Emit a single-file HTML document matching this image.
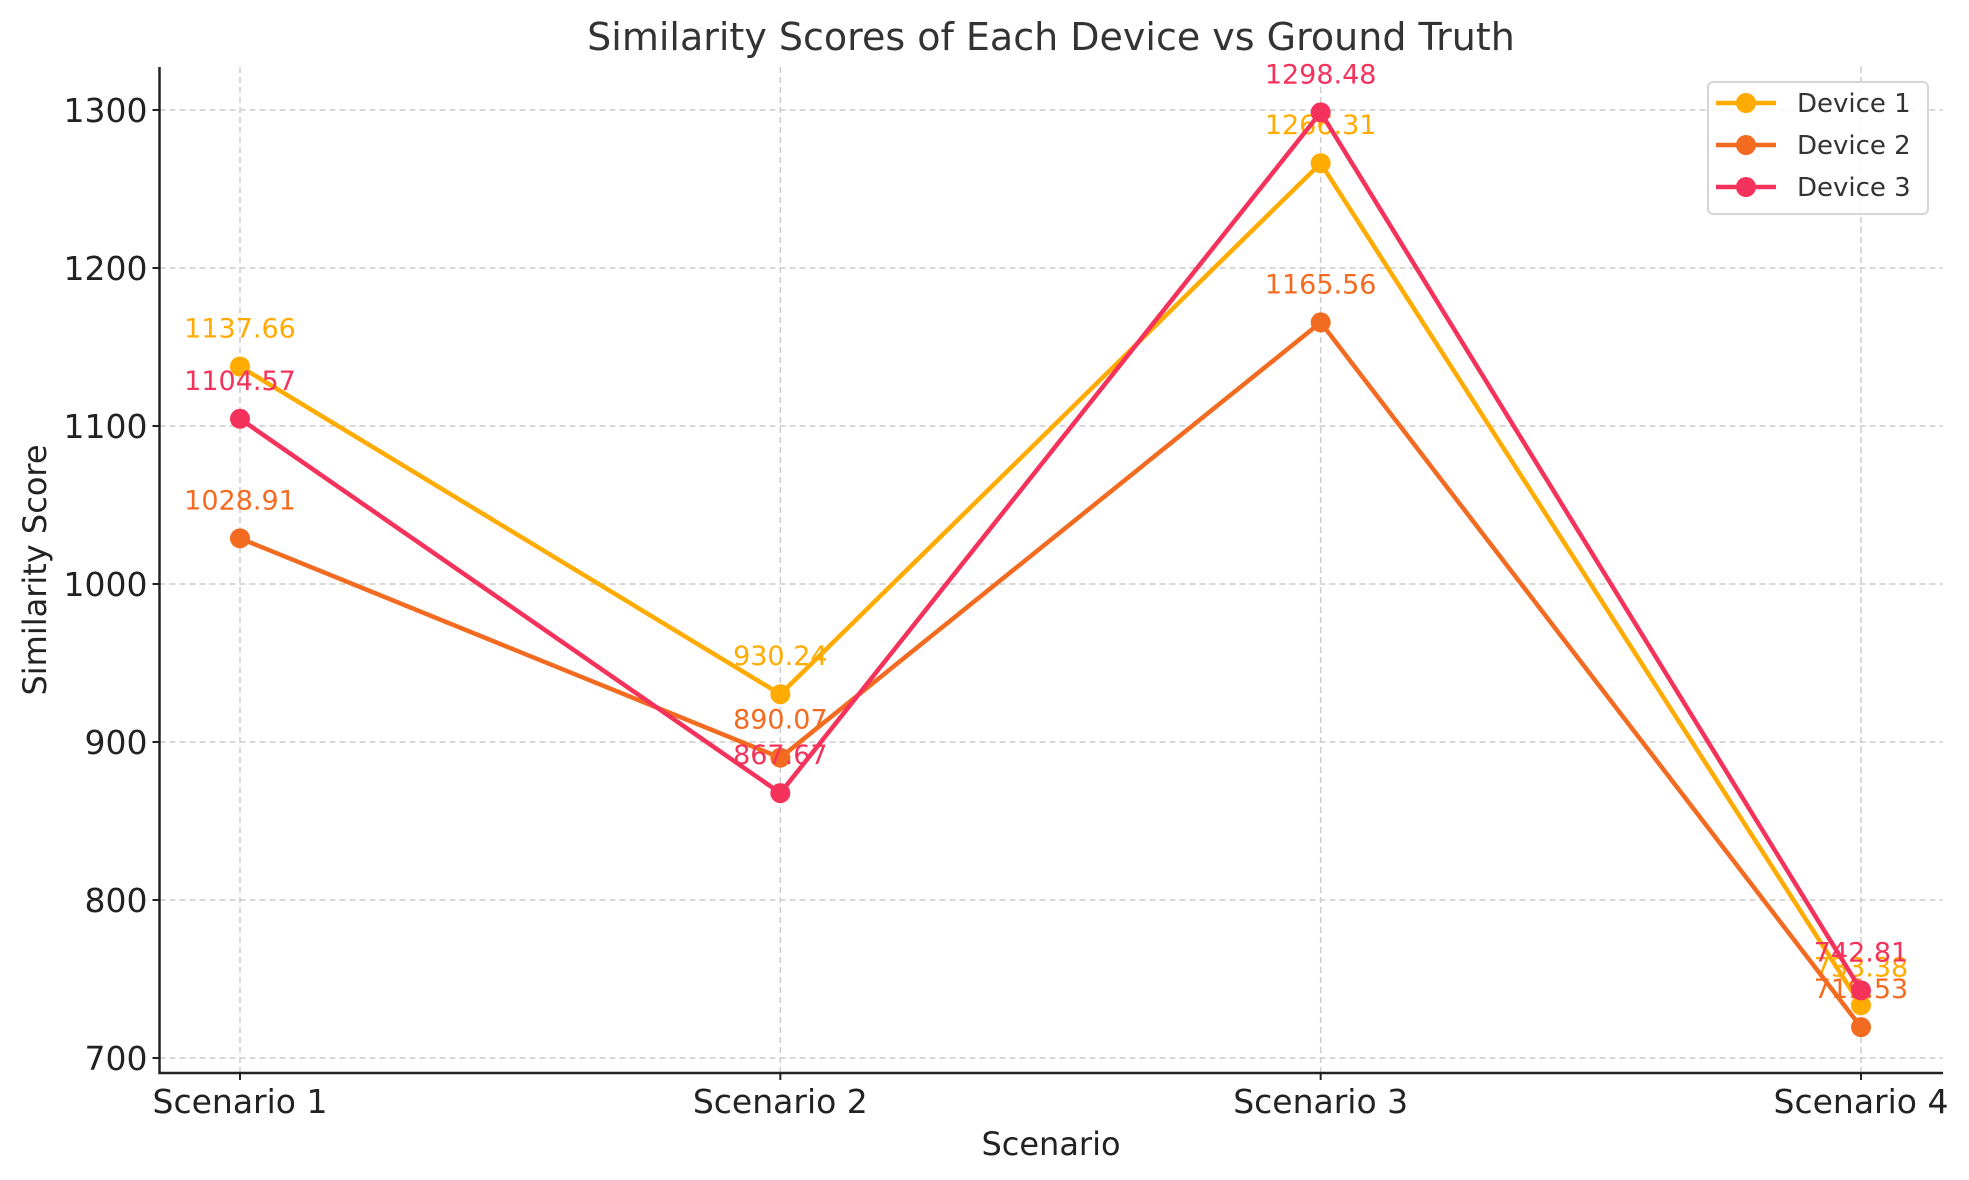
<!DOCTYPE html>
<html><head><meta charset="utf-8"><style>
body{margin:0;background:#fff;}
svg{display:block;font-family:"DejaVu Sans","Liberation Sans",sans-serif;}
</style></head><body>
<svg id="chart" width="1969" height="1180">
<text x="1051" y="50" font-size="38" fill="#333" text-anchor="middle">Similarity Scores of Each Device vs Ground Truth</text>
<g id="grid"></g>
<g id="axes"></g>
<g id="series"></g>
<text x="1051" y="1155" font-size="32" fill="#222" text-anchor="middle">Scenario</text>
<text transform="translate(46,570) rotate(-90)" font-size="32" fill="#222" text-anchor="middle">Similarity Score</text>
<g>
<rect x="1708" y="82" width="220" height="132" rx="5" fill="#fff" fill-opacity="0.8" stroke="#d6d6d6" stroke-width="2"/>
<g id="legend"></g>
</g>
</svg>
<script>
const categories=["Scenario 1","Scenario 2","Scenario 3","Scenario 4"];
const device1=[1137.66,930.24,1266.31,733.38];
const device2=[1028.91,890.07,1165.56,719.53];
const device3=[1104.57,867.67,1298.48,742.81];
const seriesNames=["Device 1","Device 2","Device 3"];
const yTicks=[700,800,900,1000,1100,1200,1300];

const colors=["#FFAB00","#F26B21","#F5325B"];
const NS="http://www.w3.org/2000/svg";
const x0=240,x1=1861,L=159.5,R=1943,T=67,B=1073;
const xs=i=>x0+(x1-x0)*i/(categories.length-1);
const ys=v=>1058+(700-v)*(1058-110)/600;
function mk(tag,attrs,parent){const e=document.createElementNS(NS,tag);for(const k in attrs)e.setAttribute(k,attrs[k]);parent.appendChild(e);return e;}
const grid=document.getElementById('grid'),axes=document.getElementById('axes'),ser=document.getElementById('series'),leg=document.getElementById('legend');
yTicks.forEach(t=>{
 const g=mk('line',{x1:L,x2:R,y1:ys(t),y2:ys(t),stroke:"#ccc","stroke-width":1.5,"stroke-dasharray":"6,4"},grid);
 
 
 mk('line',{x1:L-7,x2:L,y1:ys(t),y2:ys(t),stroke:"#222","stroke-width":2},axes);
 const tx=mk('text',{x:L-12,y:ys(t)+12,"font-size":33,fill:"#222","text-anchor":"end"},axes);
 tx.textContent=t;
 
 
});
categories.forEach((c,i)=>{
 const g=mk('line',{x1:xs(i),x2:xs(i),y1:T,y2:B,stroke:"#ccc","stroke-width":1.5,"stroke-dasharray":"6,4"},grid);
 
 
 mk('line',{x1:xs(i),x2:xs(i),y1:B,y2:B+7,stroke:"#222","stroke-width":2},axes);
 const tx=mk('text',{x:xs(i),y:B+40,"font-size":33,fill:"#222","text-anchor":"middle"},axes);
 tx.textContent=c;
 
 
});
mk('line',{x1:L,x2:L,y1:T,y2:B+1,stroke:"#222","stroke-width":2.5},axes);
mk('line',{x1:L-1,x2:R,y1:B,y2:B,stroke:"#222","stroke-width":2.5},axes);
[device1,device2,device3].forEach((d,s)=>{
 const g=mk('g',{},ser);
 
 
 const p=mk('polyline',{points:d.map((v,i)=>xs(i)+","+ys(v)).join(" "),fill:"none",stroke:colors[s],"stroke-width":4.5,"stroke-linejoin":"round"},g);
 
 
 d.forEach((v,i)=>{
  const c=mk('circle',{cx:xs(i),cy:ys(v),r:10,fill:colors[s]},g);
  
  
  const t=mk('text',{x:xs(i),y:ys(v)-29,"font-size":27,fill:colors[s],"text-anchor":"middle"},g);
  t.textContent=v.toFixed(2);
  
  
 });
});
seriesNames.forEach((n,s)=>{
 const y=103+s*42;
 const g=mk('g',{},leg);
 
 
 mk('line',{x1:1716,x2:1776,y1:y,y2:y,stroke:colors[s],"stroke-width":4.5},g);
 mk('circle',{cx:1746,cy:y,r:10,fill:colors[s]},g);
 const t=mk('text',{x:1797,y:y+9,"font-size":26,fill:"#333"},g);
 t.textContent=n;
});
</script>
</body></html>
